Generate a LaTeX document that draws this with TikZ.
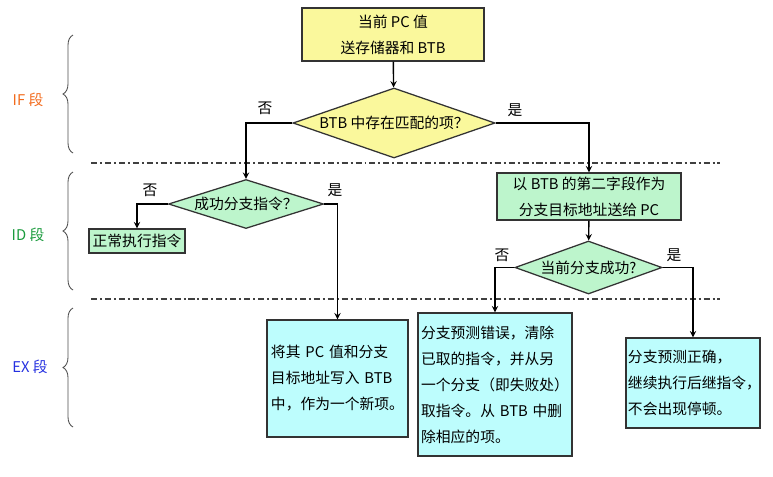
\documentclass[tikz,border=0pt]{standalone}
\usepackage{fontspec}
\setmainfont{Noto Sans CJK SC}
\usetikzlibrary{shapes.geometric,decorations.pathreplacing}
\definecolor{boxyellow}{HTML}{FAF89C}
\definecolor{boxgreen}{HTML}{BDF5CC}
\definecolor{boxcyan}{HTML}{BDFDFD}
\definecolor{ifcolor}{HTML}{F26B1D}
\definecolor{idcolor}{HTML}{1B9B3E}
\definecolor{excolor}{HTML}{2530E0}

\begin{document}
\begin{tikzpicture}[>=stealth, x=0.025cm, y=-0.025cm, font=\fontsize{10.5}{18.5}\selectfont]
  \tikzset{box/.style={draw=black!80, line width=0.9pt, align=center, inner sep=0pt},
    textbox/.style={draw=black!80, line width=0.9pt, fill=boxcyan, align=left, inner sep=0.1cm},
    cond/.style={diamond, draw=black!80, line width=0.9pt, inner sep=0pt},
    flow/.style={->, line width=1pt},
    stage/.style={decorate, decoration={brace, amplitude=0.25cm}, line width=0.6pt, black!70},
    sep/.style={dash pattern=on 4.3pt off 2.1pt on 1.4pt off 2.1pt, line width=0.8pt, black!75}}
  \useasboundingbox (0,0) rectangle (773,476);
  % stages
  \draw[stage] (73,153) -- (73,35);
  \draw[stage] (73,290) -- (73,172);
  \draw[stage] (73,427) -- (73,308);
  \node[text=ifcolor] (ifstage) at (28,100) {IF 段};
  \node[text=idcolor] (idstage) at (28,235) {ID 段};
  \node[text=excolor] (exstage) at (30,367) {EX 段};
  \draw[sep] (91,163) -- (720,163);
  \draw[sep] (91,299) -- (720,299);
  % IF
  \node[box, fill=boxyellow, minimum width=4.55cm, minimum height=1.325cm] (start) at (393,34.5) {当前 PC 值\\送存储器和 BTB};
  \node[cond, fill=boxyellow, shape aspect=2.886, minimum width=5.05cm, minimum height=1.75cm] (match) at (394,123) {BTB 中存在匹配的项？};
  % ID
  \node[cond, fill=boxgreen, shape aspect=3.165, minimum width=3.875cm, minimum height=1.225cm] (isbranch) at (246,204) {成功分支指令？};
  \node[box, fill=boxgreen, minimum width=2.4cm, minimum height=0.6cm] (normal) at (137,241) {正常执行指令};
  \node[box, fill=boxgreen, minimum width=4.6cm, minimum height=1.175cm] (target) at (589,196.5) {以 BTB 的第二字段作为\\分支目标地址送给 PC};
  \node[cond, fill=boxgreen, shape aspect=2.77, minimum width=3.675cm, minimum height=1.325cm] (taken) at (588.5,267.5) {当前分支成功?};
  % EX
  \node[textbox, text width=3.325cm, minimum height=2.925cm] (newentry) at (337.5,378.5) {将其 PC 值和分支\\目标地址写入 BTB\\中，作为一个新项。};
  \node[textbox, inner sep=0.08cm, text width=3.69cm, minimum height=3.575cm] (wrong) at (495,384.5) {分支预测错误，清除\\已取的指令，并从另\\一个分支（即失败处）\\取指令。从 BTB 中删\\除相应的项。};
  \node[textbox, inner sep=0.05cm, text width=3.25cm, minimum height=2.25cm] (right) at (693,383) {分支预测正确，\\继续执行后继指令，\\不会出现停顿。};
  % labels
  \node (matchno) at (265,108) {否};
  \node (matchyes) at (515,110) {是};
  \node (branchno) at (150,190) {否};
  \node (branchyes) at (335,190) {是};
  \node (takenno) at (502,255) {否};
  \node (takenyes) at (674,255) {是};
  % connectors
  \draw[flow] (start) -- (match);
  \draw[flow] (match.west) -| (isbranch.north);
  \draw[flow] (match.east) -| (target.north);
  \draw[flow] (isbranch.west) -| (normal.north);
  \draw[flow] (isbranch.east) -| (newentry.north);
  \draw[flow] (target) -- (taken);
  \draw[flow] (taken.west) -| (wrong.north);
  \draw[flow] (taken.east) -| (right.north);
\end{tikzpicture}
\end{document}
